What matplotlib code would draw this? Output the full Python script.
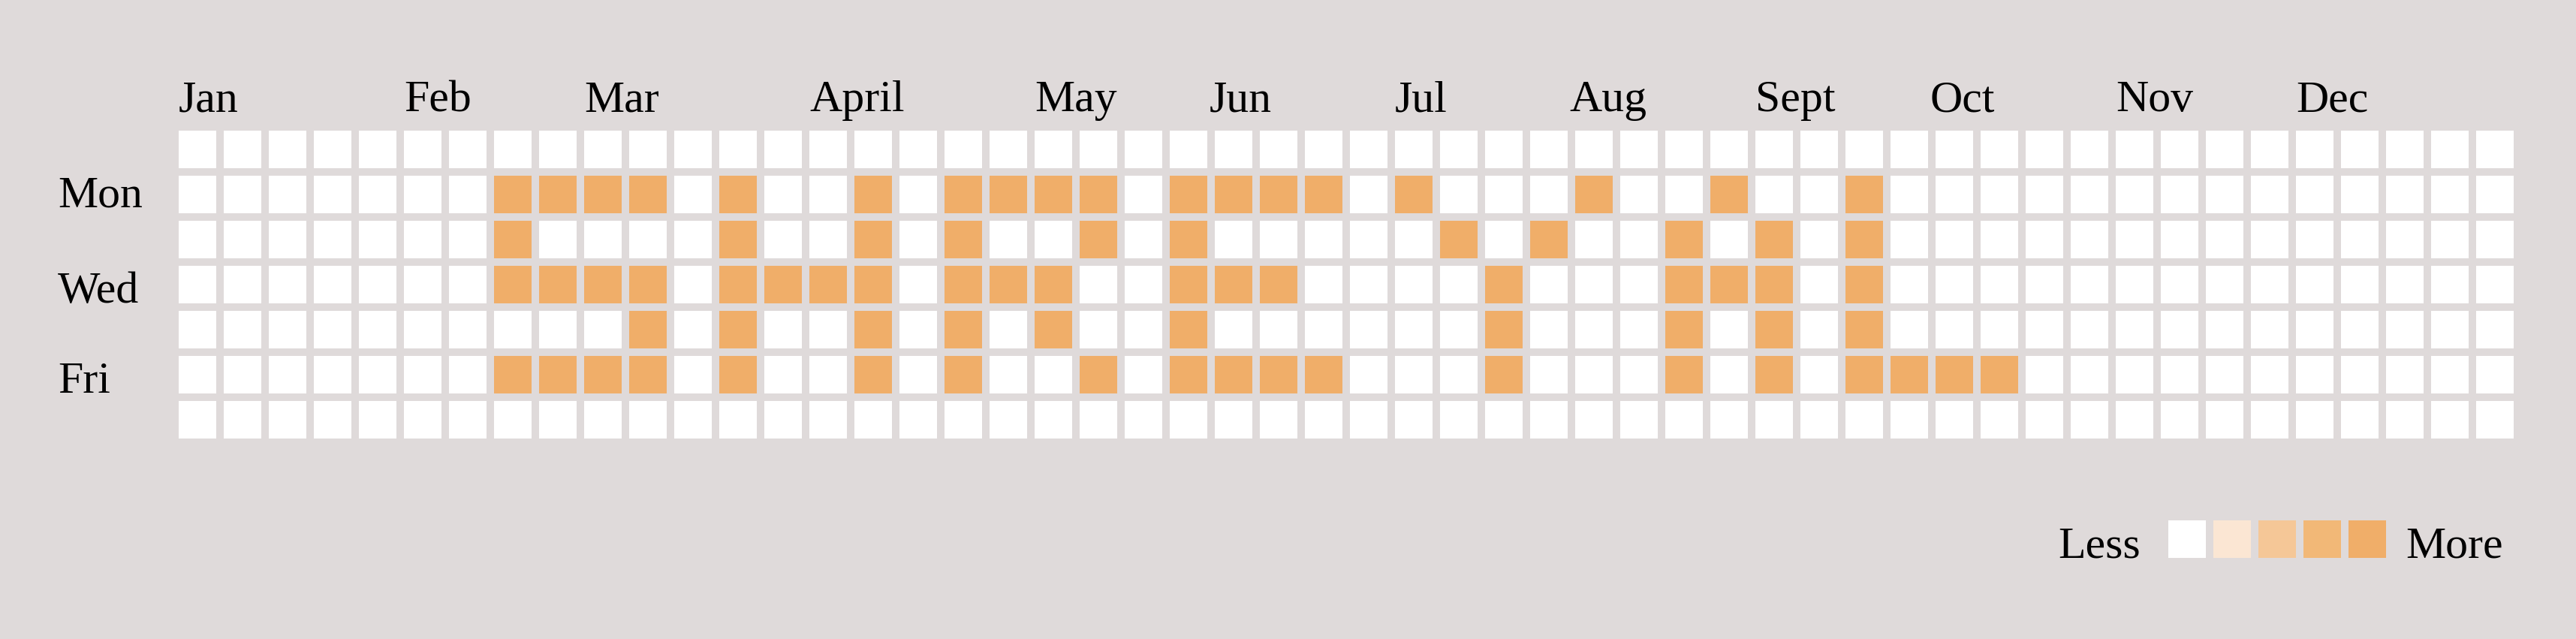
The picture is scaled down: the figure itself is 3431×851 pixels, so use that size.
import numpy as np
import matplotlib
matplotlib.use("Agg")
import matplotlib.pyplot as plt
from matplotlib.patches import Rectangle

# contribution grid: weeks (columns) with activity, one list per weekday row (Sun..Sat)
n_weeks = 52
active_weeks = [
    [],
    [7, 8, 9, 10, 12, 15, 17, 18, 19, 20, 22, 23, 24, 25, 27, 31, 34, 37],
    [7, 12, 15, 17, 20, 22, 28, 30, 33, 35, 37],
    [7, 8, 9, 10, 12, 13, 14, 15, 17, 18, 19, 22, 23, 24, 29, 33, 34, 35, 37],
    [10, 12, 15, 17, 19, 22, 29, 33, 35, 37],
    [7, 8, 9, 10, 12, 15, 17, 20, 22, 23, 24, 25, 29, 33, 35, 37, 38, 39, 40],
    [],
]
active_level = 4

months = ["Jan", "Feb", "Mar", "April", "May", "Jun", "Jul", "Aug", "Sept", "Oct", "Nov", "Dec"]
month_weeks = [0, 5, 9, 14, 19, 22.87, 27, 30.87, 35, 38.87, 43, 47]

day_labels = ["Mon", "Wed", "Fri"]
day_rows = [1, 3, 5]

level_colors = ["#ffffff", "#fbe6d3", "#f5c797", "#f2b877", "#f0ae69"]
bg = "#dfdada"

grid = np.zeros((7, n_weeks), dtype=int)
for r, weeks in enumerate(active_weeks):
    grid[r, weeks] = active_level

W, H = 3431, 851
fig = plt.figure(figsize=(W / 100, H / 100), dpi=100, facecolor=bg)

# one cell = 50px, pitch 60px
left, top = 238, 174
gw = n_weeks * 60 - 10
gh = 7 * 60 - 10
ax = fig.add_axes([left / W, 1 - (top + gh) / H, gw / W, gh / H])
ax.set_facecolor(bg)
ax.set_xlim(0, n_weeks - 1 / 6)
ax.set_ylim(7 - 1 / 6, 0)
ax.axis("off")

cell = 5 / 6
for r in range(7):
    for c in range(n_weeks):
        ax.add_patch(Rectangle((c, r), cell, cell, facecolor=level_colors[grid[r, c]],
                               edgecolor="none"))

font = dict(family="Liberation Serif", fontsize=43, color="black")

for m, x in zip(months, month_weeks):
    ax.text(x, -0.433, m, ha="left", va="baseline", clip_on=False, **font)

day_offsets = [0.685, 0.82, 0.81]
for d, r, off in zip(day_labels, day_rows, day_offsets):
    ax.text(-2.683, r + off, d, ha="left", va="baseline", clip_on=False, **font)

# legend
lx, ly = 44.17, 8.645
for i, col in enumerate(level_colors):
    ax.add_patch(Rectangle((lx + i, ly), cell, cell, facecolor=col, edgecolor="none",
                           clip_on=False))
ax.text(lx - 0.617, ly + 0.838, "Less", ha="right", va="baseline", clip_on=False, **font)
ax.text(lx + len(level_colors) - 1 / 6 + 0.433, ly + 0.838, "More", ha="left",
        va="baseline", clip_on=False, **font)

fig.savefig("out.png", dpi=100, facecolor=bg)
